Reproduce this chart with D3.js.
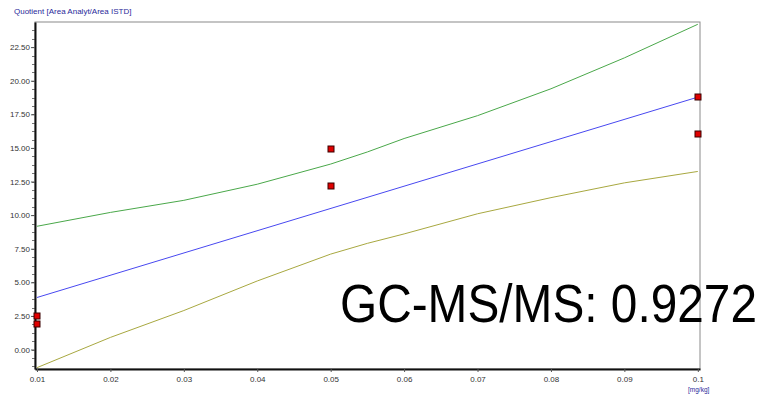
<!DOCTYPE html>
<html>
<head>
<meta charset="utf-8">
<script src="https://cdn.jsdelivr.net/npm/d3@7"></script>
<style>
body { margin: 0; background: #fff; }
text { font-family: Arial, "Liberation Sans", sans-serif; }
</style>
</head>
<body>
<svg id="svg_cal" width="762" height="395"></svg>
<script>
// calibration points (x in mg/kg, quotient)
var pointsX = [0.01, 0.01, 0.05, 0.05, 0.1, 0.1];
var pointsY = [2.5, 1.88, 14.9, 12.2, 18.78, 16.02];

// regression line
var lineX = [0.01, 0.1];
var lineY = [3.87, 18.78];

// confidence band
var bandX = [0.01, 0.02, 0.03, 0.04, 0.05, 0.055, 0.06, 0.07, 0.08, 0.09, 0.1];
var upperY = [9.17, 10.2, 11.1, 12.3, 13.8, 14.7, 15.7, 17.4, 19.4, 21.7, 24.2];
var lowerY = [-1.35, 0.9, 2.9, 5.1, 7.1, 7.9, 8.6, 10.1, 11.3, 12.4, 13.25];

var xTicks = [0.01, 0.02, 0.03, 0.04, 0.05, 0.06, 0.07, 0.08, 0.09, 0.1];
var yTicks = [0, 2.5, 5, 7.5, 10, 12.5, 15, 17.5, 20, 22.5];

var svg = d3.select("svg#svg_cal");
var margin = {top: 22, right: 62, bottom: 26, left: 35};
var width = +svg.attr("width") - margin.left - margin.right;
var height = +svg.attr("height") - margin.top - margin.bottom;

var x = d3.scaleLinear().domain([0.00973, 0.1003]).range([0, width]);
var y = d3.scaleLinear().domain([-1.45, 24.37]).range([height, 0]);

var g = svg.append("g")
	.attr("transform", "translate(" + margin.left + "," + margin.top + ")");

// frame (top and right are thin grey)
g.append("rect")
	.attr("x", 0).attr("y", 0)
	.attr("width", width).attr("height", height)
	.attr("fill", "#fff")
	.attr("stroke", "#8a8a8a")
	.attr("stroke-width", 1);

// x axis
var xAxis = g.append("g")
	.attr("transform", "translate(0," + height + ")")
	.call(d3.axisBottom(x).tickValues(xTicks).tickSize(3).tickSizeOuter(0)
		.tickFormat(function(d) { return d === 0.1 ? "0.1" : d3.format(".2f")(d); }));
xAxis.select(".domain").attr("stroke", "#111").attr("stroke-width", 2);
xAxis.selectAll(".tick line").attr("stroke", "#555");
xAxis.selectAll("text").attr("fill", "#333").attr("font-size", 8).attr("dy", "0.9em");

// y axis, minor ticks every 0.625
var minor = d3.range(-1.25, 24.3, 0.625);
g.append("g").selectAll("line").data(minor).join("line")
	.attr("x1", -3).attr("x2", 0)
	.attr("y1", function(d) { return Math.round(y(d)) + 0.5; })
	.attr("y2", function(d) { return Math.round(y(d)) + 0.5; })
	.attr("stroke", "#777");

var yAxis = g.append("g")
	.call(d3.axisLeft(y).tickValues(yTicks).tickSize(4).tickSizeOuter(0)
		.tickFormat(d3.format(".2f")));
yAxis.select(".domain").attr("stroke", "#111").attr("stroke-width", 2);
yAxis.selectAll(".tick line").attr("stroke", "#555");
yAxis.selectAll("text").attr("fill", "#333").attr("font-size", 8).attr("x", -5);

// lines
var bandLine = d3.line()
	.x(function(d) { return x(d[0]); })
	.y(function(d) { return y(d[1]); });

g.append("path")
	.datum(d3.zip(bandX, upperY))
	.attr("fill", "none").attr("stroke", "#4aa84a").attr("stroke-width", 1)
	.attr("d", bandLine);
g.append("path")
	.datum(d3.zip(bandX, lowerY))
	.attr("fill", "none").attr("stroke", "#a8a840").attr("stroke-width", 1)
	.attr("d", bandLine);
g.append("path")
	.datum(d3.zip(lineX, lineY))
	.attr("fill", "none").attr("stroke", "#4848f0").attr("stroke-width", 1)
	.attr("d", bandLine);

// points
g.append("g").selectAll("rect").data(d3.zip(pointsX, pointsY)).join("rect")
	.attr("x", function(d) { return Math.round(x(d[0])) - 3; })
	.attr("y", function(d) { return Math.round(y(d[1])) - 3; })
	.attr("width", 6).attr("height", 6)
	.attr("fill", "#e00000")
	.attr("stroke", "#3a0000")
	.attr("stroke-width", 1);

// titles
svg.append("text")
	.attr("x", 14).attr("y", 14)
	.attr("fill", "#2a2a9a").attr("font-size", 8)
	.text("Quotient [Area Analyt/Area ISTD]");
svg.append("text")
	.attr("x", 688).attr("y", 392)
	.attr("fill", "#2a2a9a").attr("font-size", 6.5)
	.text("[mg/kg]");

svg.append("text")
	.attr("x", 340).attr("y", 322)
	.attr("fill", "#000").attr("font-size", 54)
	.attr("textLength", 417)
	.attr("lengthAdjust", "spacingAndGlyphs")
	.text("GC-MS/MS: 0.9272");
</script>
</body>
</html>
